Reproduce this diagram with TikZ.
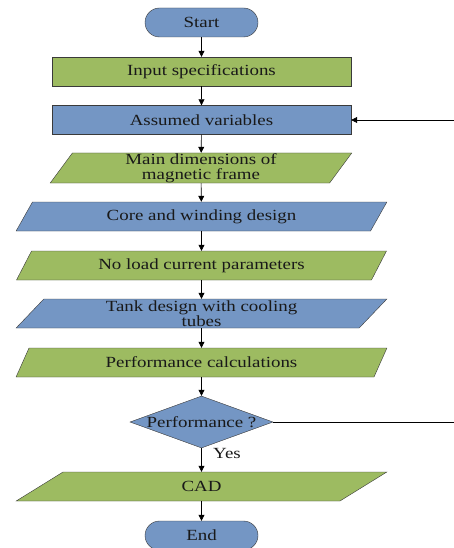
\documentclass[tikz,border=0pt]{standalone}
\usepackage{fontspec}
\setmainfont{Liberation Serif}[FakeStretch=1.22]
\usetikzlibrary{shapes.geometric,shapes.misc,arrows.meta}
\definecolor{fblue}{HTML}{7496C4}
\definecolor{fgreen}{HTML}{9DBB61}
\definecolor{edge}{HTML}{3A3A3A}
\begin{document}
\begin{tikzpicture}[x=1pt,y=-1pt,
  every node/.style={font=\fontsize{15.5}{15}\selectfont, text=black!90, align=center, inner sep=0pt},
  term/.style={rounded rectangle, draw=edge, fill=fblue, minimum width=113pt, minimum height=29pt},
  rbox/.style={rectangle, draw=edge, fill=#1, minimum width=299pt, minimum height=29pt},
  para/.style={trapezium, trapezium left angle=57, trapezium right angle=123, trapezium stretches=true, draw=edge, fill=#1, minimum width=371pt, minimum height=29pt},
  paranarrow/.style={trapezium, trapezium left angle=66, trapezium right angle=114, trapezium stretches=true, draw=edge, fill=#1, minimum width=302pt, minimum height=30pt},
  dec/.style={diamond, draw=edge, fill=fblue, minimum width=143pt, minimum height=52pt},
  arr/.style={draw=black, line width=0.6pt, -{Triangle[length=6pt,width=6pt]}},
  plain/.style={draw=black, line width=0.6pt}
]
\useasboundingbox (0,0) rectangle (454,548);
\node[term] (start) at (201.5,22.5) {Start};
\node[rbox=fgreen] (input) at (201.5,71.5) {Input specifications};
\node[rbox=fblue] (assumed) at (201.5,120) {Assumed variables};
\node[paranarrow=fgreen] (main) at (201,168) {Main dimensions of\\magnetic frame};
\node[para=fblue] (core) at (201.5,216.5) {Core and winding design};
\node[para=fgreen] (noload) at (201.5,265.5) {No load current parameters};
\node[para=fblue] (tank) at (201.5,313.5) {Tank design with cooling\\tubes};
\node[para=fgreen] (perfcalc) at (201.5,362.5) {Performance calculations};
\node[dec] (perf) at (201.5,422) {\makebox[0pt]{Performance ?}};
\node[para=fgreen] (cad) at (201.5,486.5) {CAD};
\node[term] (end) at (201.5,535.5) {End};
\node (yes) at (227,453) {Yes};
\coordinate (fbin) at (454,120);
\coordinate (fbout) at (454,422);
\draw[arr] (start) -- (input);
\draw[arr] (input) -- (assumed);
\draw[arr] (assumed) -- (main);
\draw[arr] (main) -- (core);
\draw[arr] (core) -- (noload);
\draw[arr] (noload) -- (tank);
\draw[arr] (tank) -- (perfcalc);
\draw[arr] (perfcalc) -- (perf);
\draw[arr] (perf) -- (cad);
\draw[arr] (cad) -- (end);
\draw[arr] (fbin) -- (assumed);
\draw[plain] (perf.east) -- (fbout);
\end{tikzpicture}
\end{document}
